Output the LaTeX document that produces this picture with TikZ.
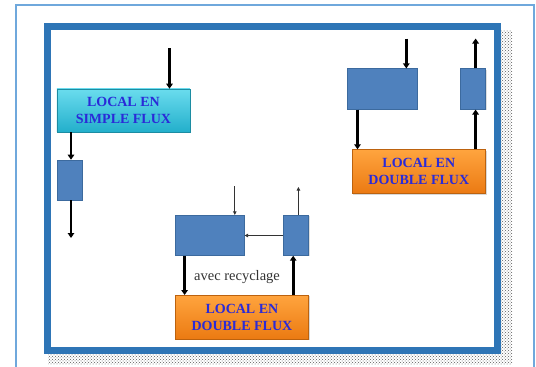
\documentclass[tikz,border=0pt]{standalone}
\usepackage{fontspec}
\setmainfont{Liberation Serif}
\usetikzlibrary{arrows.meta,shadows,patterns}
\definecolor{frameblue}{HTML}{2E75B6}
\definecolor{lightframe}{HTML}{6FA8DC}
\definecolor{boxblue}{HTML}{4F81BD}
\definecolor{boxedge}{HTML}{3C6A9E}
\definecolor{cyantop}{HTML}{6ADCEE}
\definecolor{cyanbot}{HTML}{23AFCB}
\definecolor{orangetop}{HTML}{FFA43E}
\definecolor{orangebot}{HTML}{EB7A12}
\definecolor{labelblue}{HTML}{2A2AD8}
\begin{document}
\begin{tikzpicture}[x=1pt,y=-1pt,
  bbox/.style={draw=boxedge, fill=boxblue, line width=0.6pt, inner sep=0pt,
    drop shadow={opacity=0.25, shadow xshift=1pt, shadow yshift=-1pt}},
  label box/.style={inner sep=0pt, align=center, text=labelblue,
    font=\bfseries\fontsize{14}{17}\selectfont,
    drop shadow={opacity=0.3, shadow xshift=1pt, shadow yshift=-1.2pt}},
  cyanbox/.style={label box, draw=cyanbot!80!black, line width=0.4pt,
    top color=cyantop, bottom color=cyanbot, minimum width=133pt, minimum height=43pt},
  orangebox/.style={label box, draw=orangebot!80!black, line width=0.4pt,
    top color=orangetop, bottom color=orangebot, minimum width=133.5pt, minimum height=44pt},
  thickarrow/.style={draw=black, line width=2.6pt, -{Triangle[length=5pt,width=6.5pt]}},
  thinarrow/.style={draw=black!80, line width=0.8pt, -{Triangle[length=3.5pt,width=3.5pt]}},
  note/.style={text=black!80, font=\fontsize{14.5}{16}\selectfont, inner sep=0pt}
]
\useasboundingbox (0,0) rectangle (536,367);
% outer light frame
\draw[lightframe, line width=1.5pt] (16,367) -- (16,5) -- (534,5) -- (534,367);
% shadow + main frame
\fill[pattern=crosshatch dots, pattern color=black!65] (48,30) rectangle (512,364);
\draw[frameblue, line width=7pt, fill=white] (47,26) rectangle (497,350);

% ---- simple flux ----
\node[cyanbox] (sc) at (123.4,110.4) {LOCAL EN\\SIMPLE FLUX};
\node[bbox, minimum width=24.4pt, minimum height=40pt] (s1) at (69.6,180) {};
\coordinate (a1) at (169.5,48);
\draw[thickarrow] (a1) -- (a1 |- sc.north);
\coordinate (a2) at (71,180);
\draw[thickarrow] (a2 |- sc.south) -- (a2 |- s1.north);
\coordinate (a3) at (71,238);
\draw[thickarrow] (a2 |- s1.south) -- (a3);

% ---- double flux (right) ----
\node[bbox, minimum width=70pt, minimum height=40.5pt] (rb) at (382,89) {};
\node[bbox, minimum width=25pt, minimum height=40.5pt] (rs) at (473.2,89) {};
\node[orangebox] (ro) at (418.8,171.5) {LOCAL EN\\DOUBLE FLUX};
\coordinate (r1) at (406.3,38.5);
\draw[thickarrow] (r1) -- (r1 |- rb.north);
\coordinate (r2) at (475.6,38.5);
\draw[thickarrow] (r2 |- rs.north) -- (r2);
\coordinate (r3) at (357.5,120);
\draw[thickarrow] (r3 |- rb.south) -- (r3 |- ro.north);
\draw[thickarrow] (r2 |- ro.north) -- (r2 |- rs.south);

% ---- double flux with recycling ----
\node[bbox, minimum width=69pt, minimum height=40.2pt] (bb) at (209.8,235.3) {};
\node[bbox, minimum width=25pt, minimum height=40.2pt] (bs) at (296.2,235.3) {};
\node[orangebox] (bo) at (241.9,317.2) {LOCAL EN\\DOUBLE FLUX};
\coordinate (b1) at (234.8,186);
\draw[thinarrow] (b1) -- (b1 |- bb.north);
\coordinate (b2) at (298.4,187);
\draw[thinarrow] (b2 |- bs.north) -- (b2);
\coordinate (b3) at (250,235.5);
\draw[thinarrow] (b3 -| bs.west) -- (b3 -| bb.east);
\coordinate (b4) at (184.6,280);
\draw[thickarrow] (b4 |- bb.south) -- (b4 |- bo.north);
\coordinate (b5) at (293.2,280);
\draw[thickarrow] (b5 |- bo.north) -- (b5 |- bs.south);
\node[note] (nt) at (237,277.5) {avec recyclage};
\end{tikzpicture}
\end{document}
